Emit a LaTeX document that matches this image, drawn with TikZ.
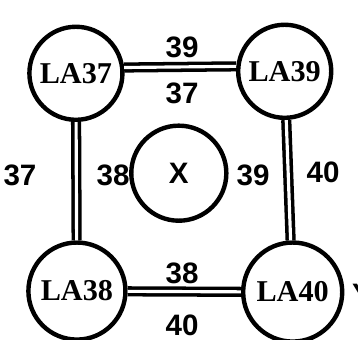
\documentclass[tikz,border=0pt]{standalone}
\usepackage{fontspec}
\setmainfont{Liberation Serif}
\setsansfont{Liberation Sans}
\usepackage{tkz-euclide}

\tikzset{
  station/.style={circle,draw,line width=1.25pt,minimum size=.93cm,inner sep=0pt,
    font=\bfseries\fontsize{8.6}{8}\selectfont},
  link/.style={double,line width=1pt,double distance=.9pt},
  num/.style={inner sep=0pt,font=\sffamily\bfseries\fontsize{8.4}{8}\selectfont}
}

\begin{document}
\begin{tikzpicture}[scale=.01]
\useasboundingbox (0,0) rectangle (358,339);

\tkzDefPoint(76,266){tA}
\tkzDefPoint(285,268){tB}
\tkzDefPoint(77,48){tC}
\tkzDefPoint(293,47){tD}
\tkzDefPoint(179,166){tX}

  \node[station] (la37) at (tA) {LA37};
  \node[station] (la39) at (tB) {LA39};
  \node[station,minimum size=.97cm] (la38) at (tC) {LA38};
  \node[station,minimum size=.99cm] (la40) at (tD) {LA40};
  \node[station,minimum size=.95cm,font=\sffamily\bfseries\fontsize{8.4}{8}\selectfont] (x) at (tX) {X};

\draw[link] (la37.7) -- (la39.174);
\draw[link] (la37) -- (la38);
\draw[link] (la39) -- (la40);
\draw[link] (la38) -- (la40);

  \node[num] (n39t) at (182,292) {39};
  \node[num] (n37t) at (182,246) {37};
  \node[num] (n37l) at (20,164) {37};
  \node[num] (n38l) at (113,164) {38};
  \node[num] (n39r) at (253,164) {39};
  \node[num] (n40r) at (323,167) {40};
  \node[num] (n38b) at (182,66) {38};
  \node[num] (n40b) at (182,14) {40};

\node[num] (y) at (362,45) {Y};

\end{tikzpicture}
\end{document}
